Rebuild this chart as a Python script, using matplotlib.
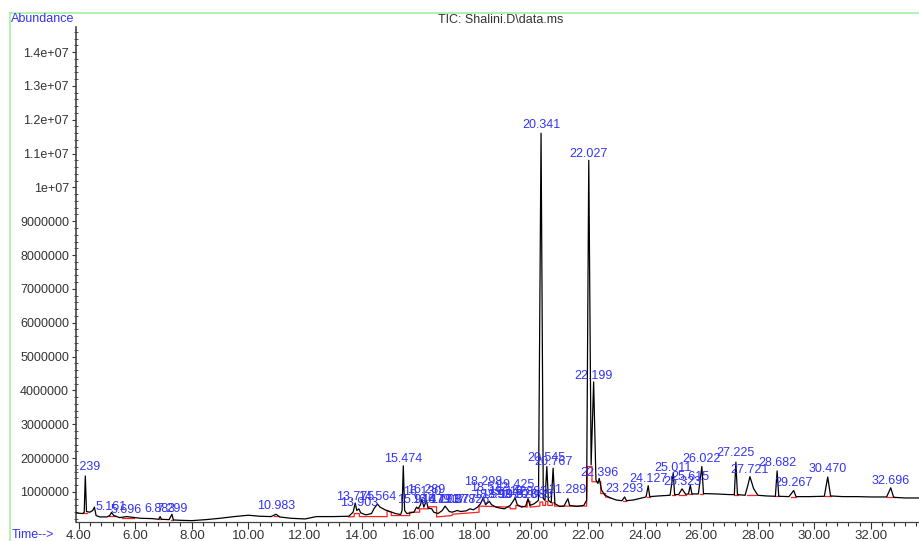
"""TIC chromatogram redrawn from the instrument printout."""

import matplotlib

matplotlib.use("Agg")
import matplotlib.pyplot as plt
import numpy as np
from matplotlib.lines import Line2D
from matplotlib.ticker import FormatStrFormatter, MultipleLocator

plt.rcParams["font.family"] = ["Liberation Sans", "DejaVu Sans"]

# trace vertices: retention time (min), abundance (millions)
trace_time = [
    3.91, 4.00, 4.15, 4.20, 4.239, 4.28, 4.40, 4.50, 4.56, 4.62, 4.75, 5.00, 5.10, 5.161, 5.25,
    5.45, 5.696, 5.90, 6.20, 6.60, 6.83, 6.883, 6.93, 7.20, 7.299, 7.35, 7.60, 8.00, 8.50, 9.00,
    9.50, 10.00, 10.40, 10.80, 10.983, 11.10, 11.50, 12.00, 12.40, 13.00, 13.55, 13.70, 13.775, 13.83, 13.903,
    13.97, 14.15, 14.35, 14.45, 14.564, 14.65, 14.83, 15.00, 15.20, 15.38, 15.43, 15.474, 15.52, 15.60, 15.85,
    15.944, 16.00, 16.08, 16.13, 16.20, 16.289, 16.35, 16.479, 16.55, 16.70, 16.85, 16.95, 17.098, 17.20, 17.377,
    17.50, 17.70, 17.826, 17.95, 18.10, 18.20, 18.298, 18.38, 18.512, 18.593, 18.75, 18.90, 19.05, 19.15, 19.25,
    19.35, 19.425, 19.50, 19.65, 19.80, 19.88, 19.95, 20.10, 20.25, 20.341, 20.42, 20.48, 20.545, 20.60, 20.70,
    20.767, 20.83, 21.00, 21.15, 21.289, 21.35, 21.60, 21.85, 21.95, 22.027, 22.11, 22.199, 22.28, 22.35, 22.396,
    22.48, 22.60, 22.80, 23.00, 23.20, 23.293, 23.36, 23.60, 23.90, 24.05, 24.127, 24.18, 24.50, 24.90, 25.011,
    25.06, 25.20, 25.323, 25.45, 25.55, 25.615, 25.67, 25.90, 26.022, 26.08, 26.50, 27.00, 27.17, 27.225, 27.28,
    27.55, 27.65, 27.721, 27.85, 28.00, 28.30, 28.62, 28.682, 28.74, 29.10, 29.267, 29.35, 29.80, 30.35, 30.470,
    30.57, 31.00, 31.50, 32.00, 32.55, 32.696, 32.80, 33.20, 33.80,
]
trace_abund = [
    0.38, 0.37, 0.36, 0.40, 1.47, 0.42, 0.40, 0.45, 0.55, 0.30, 0.26, 0.26, 0.30, 0.39, 0.30,
    0.24, 0.27, 0.25, 0.22, 0.21, 0.19, 0.27, 0.19, 0.18, 0.34, 0.17, 0.16, 0.15, 0.18, 0.22,
    0.27, 0.31, 0.28, 0.27, 0.34, 0.26, 0.22, 0.20, 0.27, 0.27, 0.28, 0.40, 0.67, 0.45, 0.50,
    0.38, 0.32, 0.36, 0.52, 0.64, 0.55, 0.47, 0.42, 0.36, 0.33, 0.45, 1.77, 0.45, 0.36, 0.40,
    0.55, 0.50, 0.62, 0.78, 0.55, 0.74, 0.52, 0.50, 0.40, 0.36, 0.45, 0.58, 0.42, 0.40, 0.45,
    0.42, 0.44, 0.50, 0.47, 0.55, 0.65, 0.82, 0.62, 0.72, 0.62, 0.55, 0.52, 0.50, 0.55, 0.60,
    0.72, 0.82, 0.62, 0.55, 0.58, 0.80, 0.60, 0.65, 0.75, 11.60, 0.80, 0.75, 1.75, 0.75, 0.68,
    1.70, 0.65, 0.57, 0.58, 0.80, 0.60, 0.57, 0.60, 0.75, 10.80, 1.80, 4.25, 1.35, 1.25, 1.40,
    1.05, 0.90, 0.82, 0.76, 0.74, 0.85, 0.74, 0.76, 0.82, 0.85, 1.18, 0.86, 0.88, 0.90, 1.56,
    0.92, 0.92, 1.09, 0.93, 0.94, 1.20, 0.94, 0.94, 1.75, 0.95, 0.94, 0.92, 0.92, 1.88, 0.92,
    0.90, 1.20, 1.45, 1.10, 0.90, 0.88, 0.87, 1.62, 0.87, 0.86, 1.04, 0.86, 0.86, 0.87, 1.44,
    0.88, 0.86, 0.86, 0.85, 0.85, 1.12, 0.84, 0.82, 0.82,
]

# integration baseline (red) through the crowded middle section
base_time = [
    13.55, 13.74, 13.74, 13.92, 13.92, 14.90, 14.90, 15.05, 15.05, 15.70, 15.70, 16.05, 16.05, 16.38,
    16.38, 16.65, 16.65, 17.20, 17.20, 17.85, 18.15, 18.15, 19.25, 19.25, 19.45, 19.45, 19.85, 19.85,
    19.95, 19.95, 20.30, 20.30, 20.40, 20.40, 20.50, 20.50, 20.58, 20.58, 20.74, 20.74, 20.82, 20.82,
    21.95, 21.98, 22.14, 22.14, 22.45, 22.45, 22.62, 22.62, 22.80,
]
base_abund = [
    0.26, 0.27, 0.36, 0.36, 0.27, 0.27, 0.44, 0.40, 0.30, 0.30, 0.40, 0.40, 0.50, 0.50,
    0.56, 0.56, 0.26, 0.30, 0.34, 0.38, 0.40, 0.58, 0.55, 0.50, 0.50, 0.60, 0.55, 0.72,
    0.72, 0.55, 0.58, 0.70, 0.70, 0.60, 0.60, 0.72, 0.72, 0.60, 0.60, 0.68, 0.68, 0.58,
    0.58, 1.75, 1.75, 1.30, 1.30, 0.95, 0.95, 0.85, 0.82,
]

# short baseline ticks under isolated peaks: start, end, level
seg_start = [4.17, 5.05, 5.55, 6.85, 7.25, 10.90, 23.22, 24.08, 24.97, 25.22, 25.56, 25.97, 27.17,
             27.62, 28.62, 29.18, 30.38, 32.55]
seg_end = [4.30, 5.28, 5.95, 6.93, 7.34, 11.08, 23.36, 24.20, 25.06, 25.45, 25.67, 26.07, 27.30,
           27.95, 28.74, 29.35, 30.60, 32.85]
seg_level = [0.38, 0.28, 0.23, 0.19, 0.17, 0.28, 0.74, 0.85, 0.90, 0.92, 0.93, 0.94, 0.92,
             0.90, 0.87, 0.86, 0.87, 0.84]

# peak labels: text, retention time, label height (millions)
peak_labels = [
    "4.239", "5.161", "5.696", "6.883", "7.299", "10.983", "13.775", "13.903", "14.564", "15.474",
    "15.944", "16.130", "16.289", "16.479", "16.793", "17.087", "17.377", "17.826", "18.298", "18.512",
    "18.593", "18.907", "19.142", "19.425", "19.528", "19.883", "20.085", "20.341", "20.545", "20.767",
    "21.289", "22.027", "22.199", "22.396", "23.293", "24.127", "25.011", "25.323", "25.615", "26.022",
    "27.225", "27.721", "28.682", "29.267", "30.470", "32.696",
]
label_time = [float(s) for s in peak_labels]
label_height = [
    1.74, 0.56, 0.47, 0.50, 0.50, 0.58, 0.85, 0.67, 0.85, 1.97,
    0.76, 1.00, 1.06, 0.76, 0.76, 0.76, 0.76, 0.76, 1.29, 1.12,
    0.91, 0.91, 1.00, 1.21, 0.91, 1.00, 0.91, 11.84, 2.00, 1.88,
    1.06, 10.98, 4.43, 1.56, 1.09, 1.38, 1.71, 1.29, 1.44, 1.97,
    2.15, 1.65, 1.85, 1.26, 1.68, 1.32,
]

y_ticks = [1e6 * k for k in range(1, 15)]
x_ticks = list(range(4, 34, 2))

BLUE = "#3434f4"
GREY = "#333333"

fig = plt.figure(figsize=(9.2, 5.41), dpi=100)
ax = fig.add_axes([76 / 920, 19 / 541, 1 - 76 / 920, 495 / 541])

ax.plot(base_time, np.array(base_abund) * 1e6, color="#ff2020", lw=0.9, zorder=2)
for t0, t1, lv in zip(seg_start, seg_end, seg_level):
    ax.plot([t0, t1], [lv * 1e6, lv * 1e6], color="#ff2020", lw=0.9, zorder=2)
ax.plot(trace_time, np.array(trace_abund) * 1e6, color="black", lw=0.9, zorder=3)

for txt, t, h in zip(peak_labels, label_time, label_height):
    ax.text(t, h * 1e6, txt, color=BLUE, fontsize=9, ha="center", va="center",
            clip_on=True, zorder=4)

ax.set_xlim(3.91, 33.73)
ax.set_ylim(0.11e6, 14.74e6)
ax.set_xticks(x_ticks)
ax.set_yticks(y_ticks)
ax.xaxis.set_major_formatter(FormatStrFormatter("%.2f"))
ax.yaxis.set_major_formatter(FormatStrFormatter("%.7g"))
ax.xaxis.set_minor_locator(MultipleLocator(0.4))
ax.yaxis.set_minor_locator(MultipleLocator(2e5))
ax.tick_params(axis="x", which="major", length=5, width=0.8, color=GREY, labelsize=9.5,
               labelcolor=GREY, pad=0.5)
ax.tick_params(axis="x", which="minor", length=3, width=0.8, color=GREY)
ax.tick_params(axis="y", which="major", length=3, width=0.8, color=GREY, labelsize=9,
               labelcolor=GREY, pad=2)
ax.tick_params(axis="y", which="minor", direction="inout", length=3, width=0.6, color=GREY)
for side in ("top", "right"):
    ax.spines[side].set_visible(False)
ax.spines["left"].set_color("#444444")
ax.spines["left"].set_linewidth(1.2)
ax.spines["bottom"].set_color("#444444")
ax.spines["bottom"].set_linewidth(0.9)

# green frame of the printout
fig.add_artist(Line2D([10 / 920, 10 / 920], [0, 1 - 13 / 541], color="#a6f0a6", lw=1.2))
fig.add_artist(Line2D([10 / 920, 1], [1 - 13 / 541, 1 - 13 / 541], color="#a6f0a6", lw=1.2))

fig.text(11 / 920, 1 - 19 / 541, "Abundance", color=BLUE, fontsize=9, va="center")
fig.text(501 / 920, 1 - 20 / 541, "TIC: Shalini.D\\data.ms", color=GREY, fontsize=9,
         ha="center", va="center")
fig.text(12 / 920, 1 - 535 / 541, "Time-->", color=BLUE, fontsize=9, va="center")

fig.savefig("out.png", dpi=100)
